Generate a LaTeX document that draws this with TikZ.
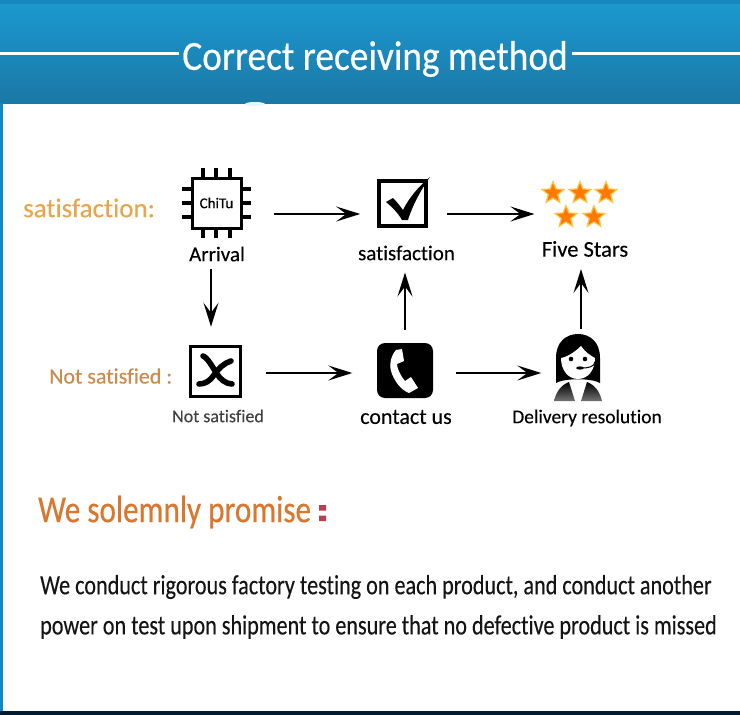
\documentclass[tikz,border=0pt]{standalone}
\usepackage{fontspec}
\setmainfont[Ligatures=NoCommon,FakeBold=0.15]{Carlito}
\newfontfamily\narrowfont[Ligatures=NoCommon,FakeStretch=0.8,FakeBold=0.2]{Carlito}
\newfontfamily\titlefont[Ligatures=NoCommon,FakeStretch=0.9,FakeBold=0.4]{Carlito}
\newfontfamily\promfont[Ligatures=NoCommon,FakeStretch=0.82,FakeBold=0.4]{Carlito}
\usetikzlibrary{arrows.meta,positioning,shapes.geometric}
\definecolor{bantop}{HTML}{1C98CF}
\definecolor{banbot}{HTML}{1A78A6}
\definecolor{banedge}{HTML}{1488BF}
\definecolor{darkbar}{HTML}{021A35}
\definecolor{okorange}{HTML}{E8A44E}
\definecolor{noorange}{HTML}{CC8A4C}
\definecolor{promorange}{HTML}{D9772E}
\definecolor{colonred}{HTML}{B8404F}
\definecolor{starfill}{HTML}{FF7A05}
\definecolor{starglow}{HTML}{FFC443}
\tikzset{
  x=1pt,y=-1pt,
  flow/.style={-{Stealth[length=24pt,width=15pt,inset=10pt]},line width=1.9pt,draw=black},
  caption/.style={font=\fontsize{21}{24}\selectfont,text=black,inner sep=0pt},
  smallcap/.style={font=\fontsize{18}{22}\selectfont,text=black!75,inner sep=0pt},
  rowlbl/.style={font=\fontsize{27}{30}\selectfont,inner sep=0pt,anchor=west},
  bodyline/.style={font=\narrowfont\fontsize{27.7}{30}\selectfont,text=black!92,inner sep=0pt,anchor=west},
  iconbox/.style={draw=black,line width=3.6pt,fill=white,inner sep=0pt},
  pin/.style={line width=3.8pt,draw=black},
  fivestar/.style={star,star points=5,star point ratio=2.3,minimum size=23pt,inner sep=0pt,
                   fill=starfill,draw=starglow,line width=1.2pt},
}
\begin{document}
\begin{tikzpicture}
  \useasboundingbox (0,0) rectangle (740,715);
  \fill[white] (0,0) rectangle (740,715);

  % banner and page edges
  \shade[top color=bantop,bottom color=banbot] (0,4) rectangle (740,103);
  \fill[banedge] (0,0) rectangle (740,4);
  \fill[banedge] (0,103) rectangle (2.5,711);
  \fill[darkbar] (0,711) rectangle (740,715);
  \fill[bantop!10] (255,104) ellipse (10 and 2);

  \node[font=\titlefont\fontsize{41.5}{46}\selectfont,text=white,inner sep=0pt] (title) at (375,59) {Correct receiving method};
  \coordinate (bandl) at (0,53.5);
  \coordinate (bandr) at (740,53.5);
  \draw[white,line width=2.2pt] (bandl) -- (179,53.5);
  \draw[white,line width=2.2pt] (572,53.5) -- (bandr);

  % row labels
  \node[rowlbl,text=okorange] (oklbl) at (23,208) {satisfaction:};
  \node[rowlbl,text=noorange,font=\fontsize{22}{26}\selectfont] (nolbl) at (49,376) {Not satisfied :};

  % chip
  \node[iconbox,line width=3pt,minimum width=49pt,minimum height=50pt,font=\fontsize{15}{17}\selectfont] (chip) at (216.5,203) {ChiTu};
  \foreach \py in {189,203,217} {
    \draw[pin] (182,\py) -- (192,\py);
    \draw[pin] (241,\py) -- (251,\py);
  }
  \foreach \px in {203,216,230} {
    \draw[pin] (\px,168) -- (\px,178);
    \draw[pin] (\px,228) -- (\px,238);
  }
  \node[caption] (arrival) at (217,254) {Arrival};

  % check box
  \node[iconbox,minimum width=47pt,minimum height=45pt] (check) at (402.5,203.5) {};
  \fill[black] (386,202) -- (393,198) .. controls (397,202) and (400,206) .. (403,210) .. controls (409,198) and (418,187) .. (430,177) .. controls (421,190) and (413,204) .. (408,220) -- (402,220) .. controls (398,213) and (392,207) .. (386,202) -- cycle;
  \node[caption] (sat) at (406.5,253) {satisfaction};

  % stars
  \node[fivestar] (star1) at (553,193) {};
  \node[fivestar] (star2) at (580,193) {};
  \node[fivestar] (star3) at (606,193) {};
  \node[fivestar] (star4) at (566,217) {};
  \node[fivestar] (star5) at (594,217) {};
  \node[caption,font=\fontsize{22.5}{26}\selectfont] (five) at (585,249) {Five Stars};

  % cross box
  \node[iconbox,minimum width=50pt,minimum height=50pt] (cross) at (215.5,371.5) {};
  \draw[black,line width=5.6pt,line cap=round] (203,356) .. controls (208,358) and (213,368) .. (217,374) .. controls (220,379) and (226,384) .. (232,384);
  \draw[black,line width=5.6pt,line cap=round] (231,361) .. controls (224,363) and (218,369) .. (214,375) .. controls (210,381) and (205,384) .. (199,384);
  \node[smallcap] (nosat) at (218,416) {Not satisfied};

  % phone
  \node[fill=black,rounded corners=8pt,minimum width=56pt,minimum height=55pt,inner sep=0pt] (phone) at (405,370.5) {};
  \fill[white] (396,350) .. controls (391,356) and (389,363) .. (391,371) .. controls (394,381) and (401,390) .. (409,393) -- (418,388) -- (411,377) -- (405,381) .. controls (400,375) and (397,368) .. (397,364) -- (404,361) -- (402,349) -- cycle;
  \node[caption,font=\fontsize{22}{26}\selectfont] (contact) at (406,417) {contact us};

  % agent
  \node[inner sep=0pt,minimum width=48pt,minimum height=67pt] (agent) at (578,367.5) {};
  \fill[black] (556,383) -- (556,358) .. controls (556,342) and (566,334) .. (578,334) .. controls (590,334) and (600,342) .. (600,358) -- (600,383) .. controls (592,378) and (564,378) .. (556,383) -- cycle;
  \fill[white] (561,358) .. controls (567,357) and (575,352) .. (581,346) .. controls (585,352) and (591,356) .. (595,358) .. controls (595,370) and (588,379) .. (578,379) .. controls (568,379) and (561,370) .. (561,358) -- cycle;
  \fill[black] (571,359) circle (2.3) (585,359) circle (2.3);
  \draw[black,line width=1pt] (595,362) .. controls (594,367) and (588,368) .. (582,368);
  \fill[black] (580,368) ellipse (4 and 1.6);
  \shade[top color=black,bottom color=black!55] (554,401) .. controls (556,392) and (561,385) .. (569,382) -- (575,401) -- cycle;
  \shade[top color=black,bottom color=black!55] (602,401) .. controls (600,392) and (595,385) .. (587,382) -- (581,401) -- cycle;
  \node[caption,font=\fontsize{19.5}{24}\selectfont] (resol) at (587,418) {Delivery resolution};

  % connectors
  \coordinate (rowa) at (0,214);
  \coordinate (rowb) at (0,373);
  \coordinate (cola) at (211,0);
  \coordinate (colb) at (405,0);
  \coordinate (colc) at (581,0);
  \draw[flow] ([xshift=31pt]chip.east |- rowa) -- ([xshift=-17pt]check.west |- rowa);
  \draw[flow] ([xshift=19pt]check.east |- rowa) -- ([xshift=-24pt]star4.west |- rowa);
  \draw[flow] ([yshift=-7pt]arrival.south -| cola) -- ([yshift=18pt]cross.north -| cola);
  \draw[flow] ([yshift=13pt]phone.north -| colb) -- ([yshift=-12pt]sat.south -| colb);
  \draw[flow] ([yshift=5pt]agent.north -| colc) -- ([yshift=-12pt]five.south -| colc);
  \draw[flow] ([xshift=24pt]cross.east |- rowb) -- ([xshift=-24.5pt]phone.west |- rowb);
  \draw[flow] ([xshift=23pt]phone.east |- rowb) -- ([xshift=-12.5pt]agent.west |- rowb);

  % promise
  \node[font=\promfont\fontsize{38}{42}\selectfont,text=promorange,inner sep=0pt,anchor=west] (promise) at (38,512) {We solemnly promise};
  \fill[colonred] (319,505) rectangle (326,510.5) (319,515.5) rectangle (326,521);
  \node[bodyline] (line1) at (40,587) {We conduct rigorous factory testing on each product, and conduct another};
  \node[bodyline] (line2) at (40,627) {power on test upon shipment to ensure that no defective product is missed};
\end{tikzpicture}
\end{document}
